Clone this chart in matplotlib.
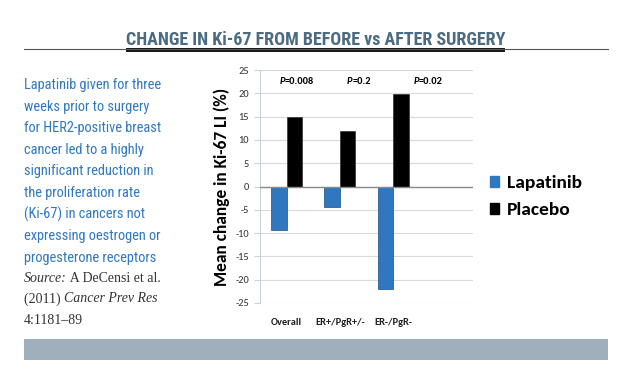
import matplotlib.pyplot as plt
from matplotlib.patches import Patch, Rectangle
from matplotlib.lines import Line2D

W, H = 625, 378

categorias = ["Overall", "ER+/PgR+/-", "ER-/PgR-"]
lapatinib = [-9.4, -4.3, -22.0]
placebo = [15.0, 12.0, 19.8]
p_valores = ["0.008", "0.2", "0.02"]
y_ticks = [25, 20, 15, 10, 5, 0, -5, -10, -15, -20, -25]

texto_azul = [
    "Lapatinib given for three",
    "weeks prior to surgery",
    "for HER2-positive breast",
    "cancer led to a highly",
    "significant reduction in",
    "the proliferation rate",
    "(Ki-67) in cancers not",
    "expressing oestrogen or",
    "progesterone receptors",
]
# (texto, cursiva) por linea de la fuente
fuente = [
    [("Source:", True), (" A DeCensi et al.", False)],
    [("(2011) ", False), ("Cancer Prev Res", True)],
    [("4:1181\u201389", False)],
]

AZUL = "#2f78c0"
TITULO_COL = "#4b6b82"
NARROW = ["Roboto Condensed", "Archivo Narrow", "Liberation Sans Narrow", "DejaVu Sans"]
CHART_FONT = ["Carlito", "Lato", "DejaVu Sans"]
SERIF = ["Liberation Serif", "DejaVu Serif"]


def px(x, y):
    return x / W, 1 - y / H


fig = plt.figure(figsize=(W / 100, H / 100), dpi=100)
renderer = fig.canvas.get_renderer()

# titulo con lineas
fig.add_artist(Line2D([24 / W, 608 / W], [1 - 49 / H] * 2, color="#555555", lw=0.8))
fig.add_artist(Rectangle(px(126, 52), (505 - 126) / W, 4 / H, color="#1a1a1a", lw=0))
fig.text(*px(315.5, 40), "CHANGE IN Ki-67 FROM BEFORE vs AFTER SURGERY",
         ha="center", va="center", fontsize=13, fontweight="heavy",
         color=TITULO_COL, family=NARROW)

# texto lateral
for i, linea in enumerate(texto_azul):
    fig.text(*px(24, 85 + i * 21.6), linea, ha="left", va="center",
             fontsize=10.4, color=AZUL, family=NARROW)

for i, partes in enumerate(fuente):
    x0 = 24
    for txt, cursiva in partes:
        t = fig.text(*px(x0, 278 + i * 21), txt, ha="left", va="center",
                     fontsize=10, color="#333333", family=SERIF,
                     style="italic" if cursiva else "normal")
        x0 += t.get_window_extent(renderer).width

# banda inferior
fig.add_artist(Rectangle(px(24, 360), (608 - 24) / W, 21 / H, color="#9fb0bc", lw=0))

# grafico
ax = fig.add_axes([260 / W, (H - 303) / H, 213 / W, 233 / H])
x = list(range(len(categorias)))
ancho = 0.29
ax.bar([i - ancho / 2 for i in x], lapatinib, ancho, color=AZUL,
       edgecolor="#1d4f80", lw=0.5, zorder=3, label="Lapatinib")
ax.bar([i + ancho / 2 for i in x], placebo, ancho, color="black",
       edgecolor="#333333", lw=0.5, zorder=3, label="Placebo")

ax.set_xlim(-0.5, 3.5)
ax.set_ylim(-25, 25)
ax.set_yticks(y_ticks)
ax.set_yticklabels([str(v) for v in y_ticks], fontsize=7.5, color="#333333",
                   family=CHART_FONT)
ax.set_xticks(x)
ax.set_xticklabels(categorias, fontsize=7.5, fontweight="bold", color="#222222",
                   family=CHART_FONT)
ax.tick_params(axis="x", length=0, pad=11)
ax.tick_params(axis="y", length=4, color="#c8d4dc", pad=4)
ax.grid(axis="y", color="#d9d9d9", lw=0.8, zorder=0)
ax.axhline(0, color="#8a8a8a", lw=1, zorder=4)
for s in ["top", "right", "bottom"]:
    ax.spines[s].set_visible(False)
ax.spines["left"].set_color("#c8d4dc")
ax.set_ylabel("Mean change in Ki-67 LI (%)", fontsize=12.5, fontweight="bold",
              family=CHART_FONT, labelpad=4)

pos_p = [-0.03, 1.24, 2.48]
for xp, p in zip(pos_p, p_valores):
    ax.text(xp, 22.6, "P", ha="right", va="center", fontsize=7.5,
            fontweight="bold", style="italic", family=CHART_FONT)
    ax.text(xp, 22.6, "=" + p, ha="left", va="center",
            fontsize=7.5, fontweight="bold", family=CHART_FONT)

handles = [Patch(color=AZUL), Patch(color="black")]
fig.legend(handles, ["Lapatinib", "Placebo"], loc="upper left",
           bbox_to_anchor=(472 / W, 1 - 158 / H), frameon=False,
           handlelength=0.5, handleheight=0.5, handletextpad=0.4,
           labelspacing=0.55, prop={"family": CHART_FONT, "weight": "bold", "size": 14})

fig.savefig("out.png", dpi=100)
